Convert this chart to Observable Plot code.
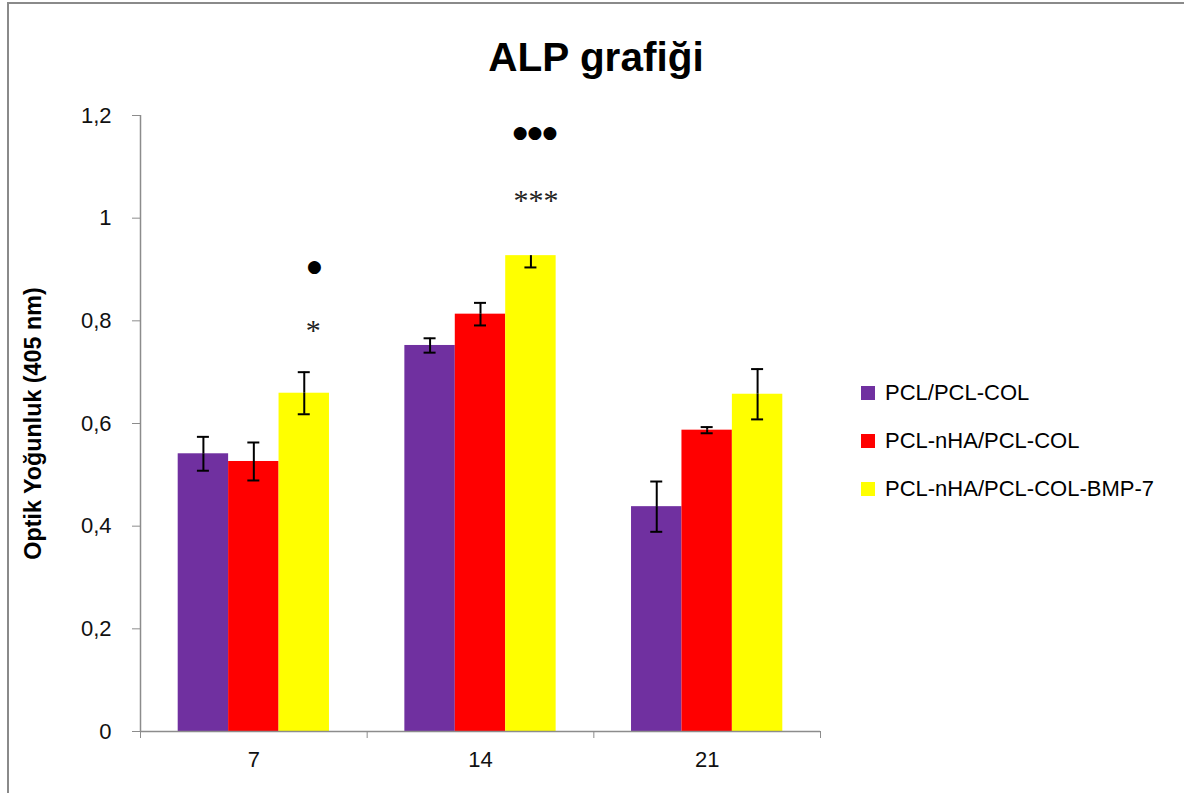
<!DOCTYPE html>
<html>
<head>
<meta charset="utf-8">
<script src="https://cdn.jsdelivr.net/npm/d3@7"></script>
<script src="https://cdn.jsdelivr.net/npm/@observablehq/plot@0.6"></script>
<style>
  html, body { margin: 0; padding: 0; background: #fff; }
  #wrap { position: relative; width: 1184px; height: 793px; overflow: hidden; font-family: "Liberation Sans", Arial, sans-serif; }
  #border { position: absolute; left: 7px; top: 2px; width: 1190px; height: 810px; border: 2px solid #8a8a8a; box-sizing: border-box; }
  #title { position: absolute; left: 0; top: 0; width: 1192px; height: 115px; text-align: center; font-weight: bold; font-size: 40.5px; line-height: 114px; color: #000; }
  #chart { position: absolute; left: 0; top: 100px; }
  #legend { position: absolute; left: 861px; top: 369px; font-size: 22px; color: #000; }
  .row { display: flex; align-items: center; height: 48px; }
  .sw { width: 14px; height: 14px; margin-right: 10px; }
</style>
</head>
<body>
<div id="wrap">
  <div id="border"></div>
  <div id="title"></div>
  <div id="chart"></div>
  <div id="legend"></div>
</div>
<script>
const titleText = "ALP grafiği";
const yLabel = "Optik Yoğunluk (405 nm)";
const days = [7, 14, 21];
const seriesNames = ["PCL/PCL-COL", "PCL-nHA/PCL-COL", "PCL-nHA/PCL-COL-BMP-7"];
const seriesColors = ["#7030A0", "#FF0000", "#FFFF00"];
const purpleValues = [0.541, 0.752, 0.438];
const redValues = [0.526, 0.813, 0.587];
const yellowValues = [0.659, 0.927, 0.657];
const purpleErrors = [0.033, 0.014, 0.049];
const redErrors = [0.037, 0.022, 0.006];
const yellowErrors = [0.041, 0.023, 0.049];
const yTicks = [0, 0.2, 0.4, 0.6, 0.8, 1, 1.2];
// significance marks above the BMP-7 bars (shift = offset in bar widths)
const annotations = [
  {day: 7, series: 2, shift: 0.2, y: 0.906, label: "●", kind: "dot"},
  {day: 7, series: 2, shift: 0.18, y: 0.781, label: "*", kind: "star"},
  {day: 14, series: 2, shift: 0.08, y: 1.166, label: "●●●", kind: "dot"},
  {day: 14, series: 2, shift: 0.1, y: 1.035, label: "***", kind: "star"}
];

document.getElementById("title").textContent = titleText;

const valuesBySeries = [purpleValues, redValues, yellowValues];
const errorsBySeries = [purpleErrors, redErrors, yellowErrors];
const rows = [];
days.forEach((day, i) => {
  seriesNames.forEach((s, j) => {
    rows.push({day, i, j, series: s, value: valuesBySeries[j][i], err: errorsBySeries[j][i]});
  });
});

const barW = 50.5 / 227; // fraction of a category step per bar
const center = d => d.i + (d.j - 1) * barW;
const annRows = annotations.map(a => ({...a, i: days.indexOf(a.day), j: a.series}));
const annX = a => center(a) + a.shift * barW;
// upper whisker of day-14 BMP-7 bar is hidden in the original
const upperRows = rows.filter(d => !(d.day === 14 && d.j === 2));

const chart = Plot.plot({
  width: 1184,
  height: 693,
  marginTop: 15,
  marginBottom: 62,
  marginLeft: 140,
  marginRight: 364,
  style: {fontFamily: "Liberation Sans, Arial, sans-serif", fontSize: "22px", background: "transparent"},
  x: {domain: [-0.5, 2.5], axis: null},
  y: {domain: [0, 1.2], axis: null},
  color: {domain: seriesNames, range: seriesColors},
  marks: [
    Plot.rectY(rows, {
      x1: d => center(d) - barW / 2,
      x2: d => center(d) + barW / 2,
      y1: 0, y2: "value",
      fill: "series",
      style: {filter: "drop-shadow(2px 1px 1.5px rgba(0,0,0,0.25))"}
    }),
    // error bars
    Plot.ruleX(rows, {x: center, y1: d => d.value - d.err, y2: "value", stroke: "#000", strokeWidth: 2}),
    Plot.ruleX(upperRows, {x: center, y1: "value", y2: d => d.value + d.err, stroke: "#000", strokeWidth: 2}),
    Plot.ruleY(rows, {x1: center, x2: center, y: d => d.value - d.err, insetLeft: -6, insetRight: -6, stroke: "#000", strokeWidth: 2}),
    Plot.ruleY(upperRows, {x1: center, x2: center, y: d => d.value + d.err, insetLeft: -6, insetRight: -6, stroke: "#000", strokeWidth: 2}),
    // axes
    Plot.ruleY([0], {stroke: "#8c8c8c", strokeWidth: 1.5}),
    Plot.ruleX([-0.5], {stroke: "#8c8c8c", strokeWidth: 1.5}),
    Plot.axisY({ticks: yTicks, tickSize: 8, tickPadding: 21, stroke: "#8c8c8c", tickFormat: d => String(d).replace(".", ","), fontSize: 22, fill: "#111", label: null}),
    Plot.axisX({ticks: [-0.5, 0.5, 1.5, 2.5], tickSize: 7, stroke: "#8c8c8c", tickFormat: () => "", label: null}),
    Plot.axisX({ticks: [0, 1, 2], tickSize: 0, tickPadding: 20, tickFormat: i => days[i], fontSize: 22, fill: "#111", label: null}),
    // significance marks
    Plot.text(annRows.filter(a => a.kind === "dot"), {x: annX, y: "y", text: "label", fontSize: 17, fontFamily: "DejaVu Sans", fill: "#000", lineAnchor: "middle", style: {letterSpacing: "2.5px"}}),
    Plot.text(annRows.filter(a => a.kind === "star"), {x: annX, y: "y", text: "label", fontSize: 30, fontFamily: "Liberation Serif", fill: "#222", lineAnchor: "middle"}),
    // y label
    Plot.text([yLabel], {frameAnchor: "left", textAnchor: "middle", dx: -107, rotate: -90, fontSize: 23.3, fontWeight: "bold", fill: "#000"})
  ]
});
document.getElementById("chart").appendChild(chart);

const legend = d3.select("#legend");
seriesNames.forEach((s, j) => {
  const r = legend.append("div").attr("class", "row");
  r.append("div").attr("class", "sw").style("background", seriesColors[j]);
  r.append("span").text(s);
});
</script>
</body>
</html>
